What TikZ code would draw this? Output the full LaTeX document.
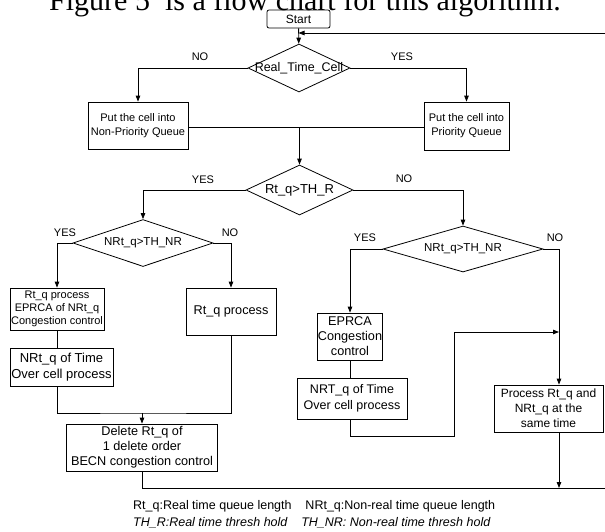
\documentclass[tikz,border=0pt]{standalone}
\usepackage{fontspec}
\setmainfont{Liberation Sans}
\newfontfamily\titlefont{Liberation Serif}
\usepackage{tikz}
\usetikzlibrary{shapes.geometric, arrows.meta}
\newcommand{\zw}[1]{\makebox[0pt]{#1}}
\newcommand{\fsz}[1]{\fontsize{#1}{#1}\selectfont}
\tikzset{
  box/.style={draw, align=center, inner sep=0.5pt, line width=0.8pt},
  dec/.style={draw, diamond, inner sep=0pt, line width=0.8pt},
  lbl/.style={inner sep=0pt, font=\fsz{11}},
  arr/.style={-{Triangle[length=6pt, width=4.5pt]}, line width=0.8pt},
  ln/.style={line width=0.8pt},
}

\begin{document}
\begin{tikzpicture}[x=1pt, y=-1pt]
  \useasboundingbox (0,0) rectangle (605,531);
  \clip (0,0) rectangle (605,531);
  \node[anchor=base, inner sep=0pt, font=\titlefont\fsz{30}] (title) at (305,10) {Figure 5\ \ is a flow chart for this algorithm.};

  % top part
  \node[box, rounded corners=2pt, minimum width=63pt, minimum height=18pt, font=\fsz{12}] (start) at (298.5,19) {Start};
  \node[dec, minimum width=102pt, minimum height=48pt, font=\fsz{12.5}] (rtc) at (299,68) {\zw{Real\_Time\_Cell}};
  \node[box, minimum width=100pt, minimum height=47pt, font=\fontsize{11}{14}\selectfont] (npq) at (138,125.5) {Put the cell into\\Non-Priority Queue};
  \node[box, minimum width=85pt, minimum height=48pt, font=\fontsize{11}{14}\selectfont] (pq) at (466.5,126) {Put the cell into\\Priority Queue};
  \node[lbl] (no1) at (200,57) {NO};
  \node[lbl] (yes1) at (402,57) {YES};
  \coordinate (fb) at (605,33);
  \coordinate (m1) at (299.5,127);

  % second decision
  \node[dec, minimum width=107pt, minimum height=50pt, font=\fsz{13}] (rtq) at (299.5,190) {\zw{Rt\_q>TH\_R}};
  \node[lbl] (yes2) at (203,180) {YES};
  \node[lbl] (no2) at (404,179) {NO};

  % left branch
  \node[dec, minimum width=140pt, minimum height=47pt, font=\fsz{11.5}] (nrtl) at (143,243) {\zw{NRt\_q>TH\_NR}};
  \node[lbl] (yes3) at (65,233) {YES};
  \node[lbl] (no3) at (230,233) {NO};
  \node[box, minimum width=94pt, minimum height=42pt, font=\fontsize{11}{13}\selectfont] (boxA) at (57,309) {Rt\_q process\\EPRCA of NRt\_q\\Congestion control};
  \node[box, minimum width=103pt, minimum height=38pt, font=\fontsize{13}{16}\selectfont] (boxB) at (61.5,367) {NRt\_q of Time\\Over cell process};
  \node[box, minimum width=90pt, minimum height=47pt, font=\fsz{12.7}] (boxC) at (231,311.5) {Rt\_q process};
  \node[box, minimum width=151pt, minimum height=47pt, font=\fontsize{12.7}{15}\selectfont] (boxD) at (142,447.5) {Delete Rt\_q of\\1 delete order\\BECN congestion control};
  \coordinate (m2) at (142,413);

  % right branch
  \node[dec, minimum width=160pt, minimum height=46pt, font=\fsz{11.5}] (nrtr) at (463,249) {\zw{NRt\_q>TH\_NR}};
  \node[lbl] (yes4) at (365,238) {YES};
  \node[lbl] (no4) at (555,238) {NO};
  \node[box, minimum width=64pt, minimum height=47pt, font=\fontsize{12.7}{15}\selectfont] (boxE) at (350,336.5) {EPRCA\\Congestion\\control};
  \node[box, minimum width=110pt, minimum height=41pt, font=\fontsize{12.5}{16}\selectfont] (boxF) at (352,398.5) {NRT\_q of Time\\Over cell process};
  \node[box, minimum width=109pt, minimum height=47pt, font=\fontsize{12}{15}\selectfont] (boxG) at (548.5,408.5) {Process Rt\_q and\\NRt\_q at the\\same time};
  \coordinate (fo1) at (454,436);
  \coordinate (join) at (559,332);
  \coordinate (bot) at (605,488);

  % legend
  \node[anchor=base west, inner sep=0pt, font=\fsz{12.5}] (key1) at (133,509) {Rt\_q:Real time queue length\ \ \ \ NRt\_q:Non-real time queue length};
  \node[anchor=base west, inner sep=0pt, font=\itshape\fsz{12.5}] (key2) at (133,526) {TH\_R:Real time thresh hold\ \ \ \ TH\_NR: Non-real time thresh hold};

  % connectors
  \draw[arr] (start) -- (rtc);
  \draw[arr] (fb) -- (start.south |- fb);
  \draw[arr] (rtc.west) -| (npq.north);
  \draw[arr] (rtc.east) -| (pq.north);
  \draw[ln] (npq.east |- m1) -- (pq.west |- m1);
  \draw[arr] (m1) -- (rtq.north);
  \draw[arr] (rtq.west) -| (nrtl.north);
  \draw[arr] (rtq.east) -| (nrtr.north);
  \draw[arr] (nrtl.west) -| (boxA.north);
  \draw[arr] (nrtl.east) -| (boxC.north);
  \draw[ln] (boxA) -- (boxA.south |- boxB.north);
  \draw[ln] (boxA.south |- boxB.south) |- (m2) -| (boxC.south);
  \draw[arr] (m2) -- (boxD.north);
  \draw[ln] (boxD.south) |- (bot);
  \draw[arr] (nrtr.west) -| (boxE.north);
  \draw[ln] (boxE) -- (boxE.south |- boxF.north);
  \draw[arr] (boxF.south -| boxE) |- (fo1) |- (join);
  \draw[arr] (nrtr.east) -| (join |- boxG.north);
  \draw[arr] (join |- boxG.south) -- (join |- bot);
\end{tikzpicture}
\end{document}
